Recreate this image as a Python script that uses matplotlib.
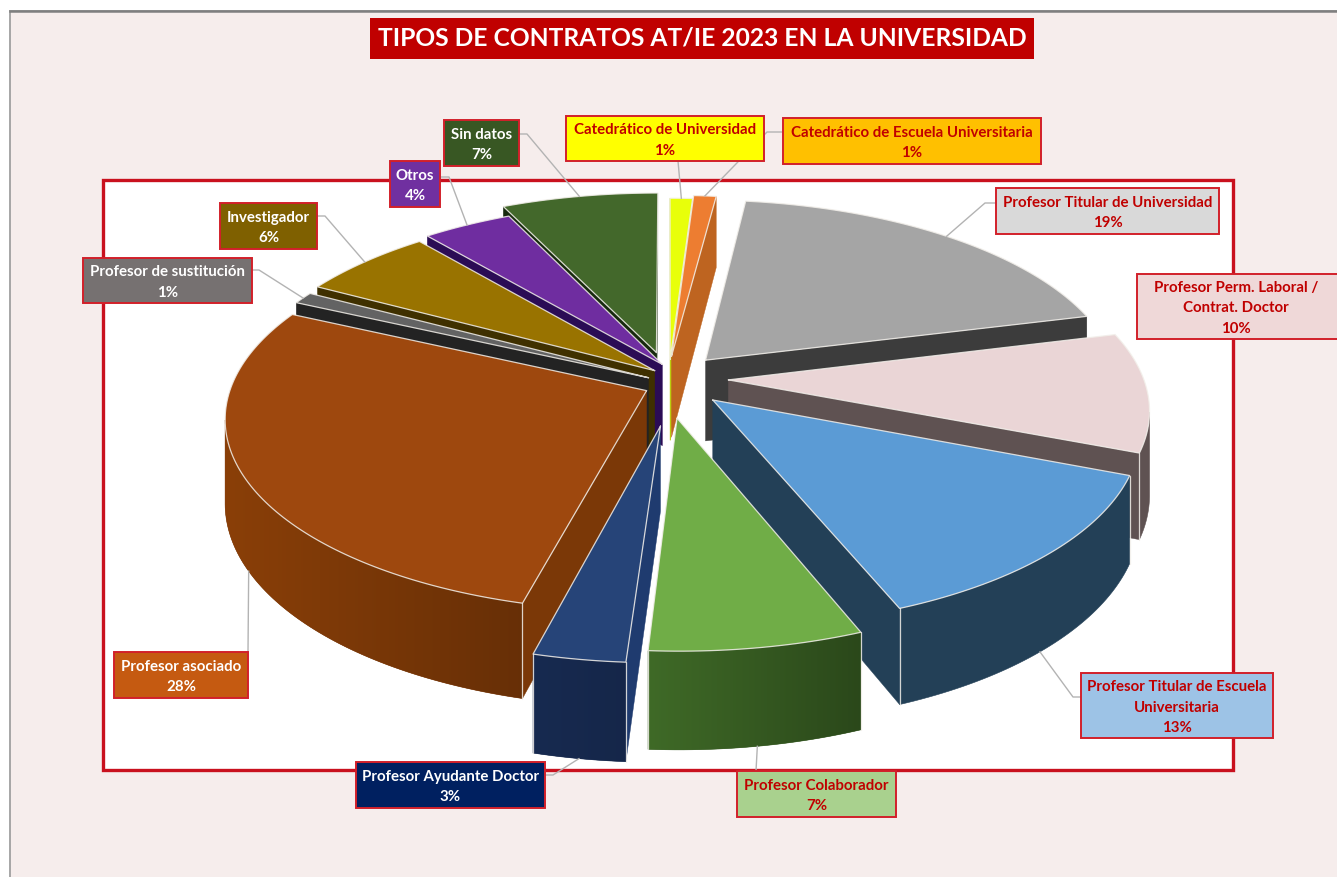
#!/usr/bin/env python3
import numpy as np
import matplotlib
matplotlib.use("Agg", force=True)
import matplotlib.pyplot as plt
from matplotlib.colors import to_rgb
from matplotlib.patches import Polygon, Rectangle

plt.rcParams["font.family"] = ["Lato", "DejaVu Sans"]

# ─── DATA ──────────────────────────────────────────────────────────────────────
TITLE = "TIPOS DE CONTRATOS AT/IE 2023 EN LA UNIVERSIDAD"
categories = [
    "Catedrático de Universidad",
    "Catedrático de Escuela Universitaria",
    "Profesor Titular de Universidad",
    "Profesor Perm. Laboral /\nContrat. Doctor",
    "Profesor Titular de Escuela\nUniversitaria",
    "Profesor Colaborador",
    "Profesor Ayudante Doctor",
    "Profesor asociado",
    "Profesor de sustitución",
    "Investigador",
    "Otros",
    "Sin datos",
]
percent = [1, 1, 19, 10, 13, 7, 3, 28, 1, 6, 4, 7]

# ─── STYLE ─────────────────────────────────────────────────────────────────────
top_colors = ["#E8FF0A", "#ED7D31", "#A5A5A5", "#EAD5D6", "#5B9BD5", "#70AD47",
              "#264478", "#9E480E", "#636363", "#997300", "#6F2DA0", "#43682B"]
side_colors = ["#B9CC08", "#BE6420", "#3C3C3C", "#5F5252", "#234057", "#3F6A27",
               "#172A50", "#8A3F08", "#232323", "#3F3000", "#2B0C55", "#172A0E"]
wall_colors = ["#B9CC08", "#BE6420", "#3C3C3C", "#5F5252", "#234057", "#3F6A27",
               "#1F3B6F", "#7B3807", "#232323", "#3F3000", "#2B0C55", "#172A0E"]
side_fade = [0, 0, 0, 0, 0, 0.32, 0.08, 0.25, 0, 0, 0, 0]
explode = [0.09, 0.09, 0.15, 0.16, 0.17, 0.21, 0.26, 0.07, 0.05, 0.07, 0.08, 0.13]
# small screen shifts of each slice, in pixels
nudge_x = [4, 3, 0, -3, -3, -2, 13, 8, 2, 12, 15, 3]
nudge_y = [0, -3, 5, 2, 1, 2, 0, 9, 6, 3, 1, 0]

box_fill = ["#FFFF00", "#FFC000", "#D9D9D9", "#EFD8D8", "#9DC3E6", "#A9D18E",
            "#002060", "#C55A11", "#767171", "#7F6000", "#7030A0", "#385723"]
text_color = ["#C00000"] * 6 + ["white"] * 6
# left, top, right, bottom in pixels
boxes = [(566, 116, 764, 161), (783, 118, 1041, 164), (996, 188, 1219, 234),
         (1137, 274, 1340, 339), (1081, 673, 1273, 738), (737, 771, 896, 817),
         (356, 762, 545, 808), (114, 652, 248, 698), (83, 258, 252, 303),
         (220, 203, 317, 249), (390, 161, 440, 207), (444, 120, 519, 166)]
# elbow of each leader line, from the box to the slice
elbows = [(678, 161), (767, 132), (985, 203), None, (1073, 697), (756, 771),
          (553, 775), (248, 652), (259, 270), (325, 216), (449, 177), (527, 134)]
leader_from = [(678, 161), (783, 132), (996, 203), None, (1081, 697), (756, 771),
               (545, 775), (248, 652), (252, 270), (317, 216), (440, 177), (519, 134)]
# which face of the slice the leader lands on (0 top edge, 1 bottom edge)
leader_depth = [0, 0, 0, 0, 1, 1, 1, 1, 0, 0, 0, 0]
# turn of the landing point from the middle of the slice, degrees
leader_turn = [0, 0, 0, 0, 2, 0, 0, -2, 0, 0, 0, 0]

# ─── PROJECTION ────────────────────────────────────────────────────────────────
CX, CY = 665, 376
RX, RY = 415, 188
PERSP = 0.14
DEPTH = 82
RED = "#C9111E"


def project(x, y, z=0.0, dx=0.0, dy=0.0):
    w = 1 + PERSP * y
    return CX + dx + RX * x / w, CY + dy + (-RY * y + DEPTH * z) / w


def draw_slice(ax, i, a0, a1, off, zo):
    top, side, wall, fade = top_colors[i], side_colors[i], wall_colors[i], side_fade[i]
    dx, dy = nudge_x[i], nudge_y[i]
    mid = (a0 + a1) / 2
    ox, oy = off * np.sin(mid), off * np.cos(mid)
    ang = np.linspace(a0, a1, max(6, int((a1 - a0) * 60)))
    xs = ox + np.sin(ang)
    ys = oy + np.cos(ang)
    cam_y = -1 / PERSP
    edge = dict(color="#F2EFEA", lw=0.9, alpha=0.85, solid_capstyle="round")

    # radial walls, only those facing the viewer
    for a, sign, rim_x, rim_y in ((a0, -1, xs[0], ys[0]), (a1, 1, xs[-1], ys[-1])):
        nx, ny = sign * np.cos(a), -sign * np.sin(a)
        if nx * (0 - ox) + ny * (cam_y - oy) > 0:
            pts = [project(ox, oy, 0, dx, dy), project(rim_x, rim_y, 0, dx, dy),
                   project(rim_x, rim_y, 1, dx, dy), project(ox, oy, 1, dx, dy)]
            ax.add_patch(Polygon(pts, closed=True, fc=wall, ec=wall, lw=0.3, zorder=zo))

    # outer wall, only the part facing the viewer
    seen = [k for k in range(len(ang))
            if np.sin(ang[k]) * (0 - xs[k]) + np.cos(ang[k]) * (cam_y - ys[k]) > 0]
    if len(seen) > 1:
        upper = [project(xs[k], ys[k], 0, dx, dy) for k in seen]
        lower = [project(xs[k], ys[k], 1, dx, dy) for k in seen]
        outline = upper + lower[::-1]
        base = np.array(to_rgb(side))
        shape = Polygon(outline, closed=True, fc=base * (1 - fade / 2), ec=base * (1 - fade / 2),
                        lw=0.4, zorder=zo + 0.1)
        ax.add_patch(shape)
        if fade:
            # lighter on the left of the picture, darker on the right
            ramp = np.linspace(0, 1, 128)[None, :, None]
            grad = base[None, None, :] * (1 - fade * ramp)
            px = [p[0] for p in outline]
            py = [p[1] for p in outline]
            im = ax.imshow(grad, extent=(min(px), max(px), max(py), min(py)), aspect="auto",
                           interpolation="bilinear", zorder=zo + 0.15)
            im.set_clip_path(shape)
        for k in (seen[0], seen[-1]):
            if k in (0, len(ang) - 1):
                ax.plot(*zip(project(xs[k], ys[k], 0, dx, dy), project(xs[k], ys[k], 1, dx, dy)),
                        zorder=zo + 0.4, **edge)

    # top face
    rim = [project(x, y, 0, dx, dy) for x, y in zip(xs, ys)]
    apex = project(ox, oy, 0, dx, dy)
    ax.add_patch(Polygon([apex] + rim, closed=True, fc=top, ec="none", zorder=zo + 0.3))
    ax.plot(*zip(*([apex] + rim + [apex])), zorder=zo + 0.4, **edge)


fig = plt.figure(figsize=(13.37, 8.77), dpi=100, facecolor="white")
ax = fig.add_axes([0, 0, 1, 1])

# page and plot frame
ax.add_patch(Rectangle((10, 11), 1340, 880, fc="#F6EDEC", ec="#A6A6A6", lw=1.4, zorder=0))
ax.plot([10, 1337], [11, 11], color="#7F7F7F", lw=1.8, zorder=0.5)
ax.add_patch(Rectangle((103, 180), 1130, 590, fc="white", ec=RED, lw=2.4, zorder=1))

# slices, the ones further back first
edges = np.deg2rad(np.cumsum([0] + percent) * 3.6)
mids = (edges[:-1] + edges[1:]) / 2
offs = np.array(explode)
back_to_front = sorted(range(len(percent)), key=lambda i: -np.cos(mids[i]))
for rank, i in enumerate(back_to_front):
    draw_slice(ax, i, edges[i], edges[i + 1], offs[i], 2 + rank)

# labels with their leader lines
for i, name in enumerate(categories):
    if leader_from[i] is not None:
        turn = mids[i] + np.deg2rad(leader_turn[i])
        land = project(offs[i] * np.sin(mids[i]) + np.sin(turn),
                       offs[i] * np.cos(mids[i]) + np.cos(turn), leader_depth[i],
                       nudge_x[i], nudge_y[i])
        px, py = zip(leader_from[i], elbows[i], land)
        ax.plot(px, py, color="#B3B3B3", lw=1.0, zorder=20)

    l, t, r, b = boxes[i]
    ax.add_patch(Rectangle((l, t), r - l, b - t, fc=box_fill[i], ec="#D2202A", lw=1.4, zorder=21))
    ax.text((l + min(r, 1337)) / 2 - (1 if r > 1337 else 0), (t + b) / 2 + 2, f"{name}\n{percent[i]}%",
            ha="center", va="center", color=text_color[i], fontsize=10.8, fontweight="bold",
            linespacing=1.6, zorder=22)

# title
ax.add_patch(Rectangle((370, 18), 664, 41, fc="#C00000", ec="none", zorder=21))
ax.text(702, 38.5, TITLE, ha="center", va="center", color="white", fontsize=17.7,
        fontweight="bold", zorder=22)

ax.set_xlim(0, 1337)
ax.set_ylim(877, 0)
ax.axis("off")

fig.savefig("out.png", dpi=100)
plt.close(fig)
